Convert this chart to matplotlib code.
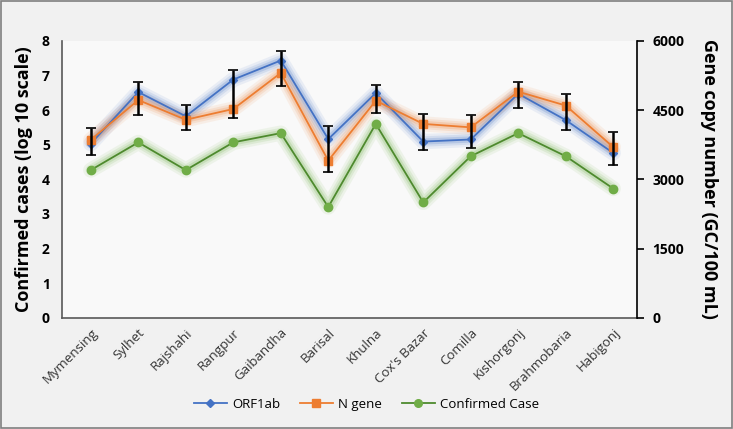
import matplotlib
matplotlib.use('Agg')
from matplotlib import pyplot as plt
from matplotlib.patches import Rectangle

districts = ['Mymensing', 'Sylhet', 'Rajshahi', 'Rangpur', 'Gaibandha', 'Barisal',
             'Khulna', "Cox's Bazar", 'Comilla', 'Kishorgonj', 'Brahmobaria', 'Habigonj']

# left axis values
orf1ab = [5.03, 6.52, 5.82, 6.88, 7.43, 5.16, 6.49, 5.09, 5.15, 6.47, 5.71, 4.76]
n_gene = [5.14, 6.29, 5.72, 6.03, 7.07, 4.54, 6.27, 5.60, 5.50, 6.53, 6.13, 4.93]
err_high = [5.48, 6.82, 6.15, 7.17, 7.70, 5.53, 6.71, 5.90, 5.85, 6.80, 6.45, 5.38]
err_low = [4.71, 5.86, 5.42, 5.76, 6.70, 4.21, 5.92, 4.85, 4.90, 6.07, 5.43, 4.42]

# right axis values
confirmed = [3200, 3800, 3200, 3800, 4000, 2400, 4200, 2500, 3500, 4000, 3500, 2800]

blue = '#4472C4'
orange = '#ED7D31'
green = '#70AD47'
dkgreen = '#4E8A2E'

font = 'Open Sans'
plt.rcParams['font.family'] = [font, 'DejaVu Sans']

fig = plt.figure(figsize=(7.33, 4.29), dpi=100, facecolor='#f1f1f1')
fig.patches.append(Rectangle((0.002, 0.003), 0.996, 0.994, transform=fig.transFigure,
                             fill=False, edgecolor='#7f7f7f', lw=1.2))

ax = fig.add_axes([0.085, 0.259, 0.784, 0.646])
ax.set_facecolor('#f9f9f9')
ax2 = ax.twinx()

x = list(range(len(districts)))


def glow_line(a, ys, color, lc, marker, ms, z):
    for w, al in [(11, 0.09), (7.5, 0.13), (4.5, 0.2)]:
        a.plot(x, ys, color=color, lw=w, alpha=al, solid_capstyle='round', zorder=z)
    a.plot(x, ys, color=lc, lw=1.3, marker=marker, markersize=ms,
           markerfacecolor=color, markeredgecolor=color, zorder=z + 1)


glow_line(ax, orf1ab, blue, blue, 'D', 4, 3)
glow_line(ax, n_gene, orange, orange, 's', 6, 3)

mid = [(h + l) / 2 for h, l in zip(err_high, err_low)]
half = [(h - l) / 2 for h, l in zip(err_high, err_low)]
ax.errorbar(x, mid, yerr=half, fmt='none', ecolor='black', elinewidth=1.8,
            capsize=3.5, capthick=1.2, zorder=6)

glow_line(ax2, confirmed, green, dkgreen, 'o', 6, 3)

ax.set_xlim(-0.6, 11.5)
ax.set_ylim(0, 8)
ax2.set_ylim(0, 6000)
ax.set_yticks(range(0, 9))
ax2.set_yticks([0, 1500, 3000, 4500, 6000])

ax.set_xticks(x)
ax.set_xticklabels(districts, rotation=45, ha='right', rotation_mode='anchor',
                   fontsize=9.5, color='#333333')
ax.tick_params(axis='x', length=0, pad=6)
ax.tick_params(axis='y', length=0, pad=9, labelsize=10)
ax2.tick_params(axis='y', length=5, width=1.2, direction='out', pad=6, labelsize=10)
for lab in ax.get_yticklabels() + ax2.get_yticklabels():
    lab.set_fontweight('bold')

for s in ['top', 'right']:
    ax.spines[s].set_visible(False)
ax.spines['left'].set_color('#595959')
ax.spines['bottom'].set_color('#595959')
ax.spines['left'].set_linewidth(1.2)
ax.spines['bottom'].set_linewidth(1.2)
for s in ['top', 'left', 'bottom']:
    ax2.spines[s].set_visible(False)
ax2.spines['right'].set_linewidth(1.2)

ax.set_ylabel('Confirmed cases (log 10 scale)', fontsize=13, fontweight='bold', labelpad=6)
ax2.set_ylabel('Gene copy number (GC/100 mL)', fontsize=13, fontweight='bold',
               rotation=270, labelpad=24)

handles = [
    plt.Line2D([], [], color=blue, marker='D', markersize=4, lw=1.3),
    plt.Line2D([], [], color=orange, marker='s', markersize=5.5, lw=1.3),
    plt.Line2D([], [], color=dkgreen, marker='o', markersize=5.5, markerfacecolor=green,
               markeredgecolor=green, lw=1.3),
]
fig.legend(handles, ['ORF1ab', 'N gene', 'Confirmed Case'], loc='center',
           bbox_to_anchor=(0.5, 0.058), ncol=3, frameon=False, fontsize=9.5,
           handlelength=2.5, handletextpad=0.4, columnspacing=1.5)

fig.savefig('out.png', dpi=100, facecolor=fig.get_facecolor())
